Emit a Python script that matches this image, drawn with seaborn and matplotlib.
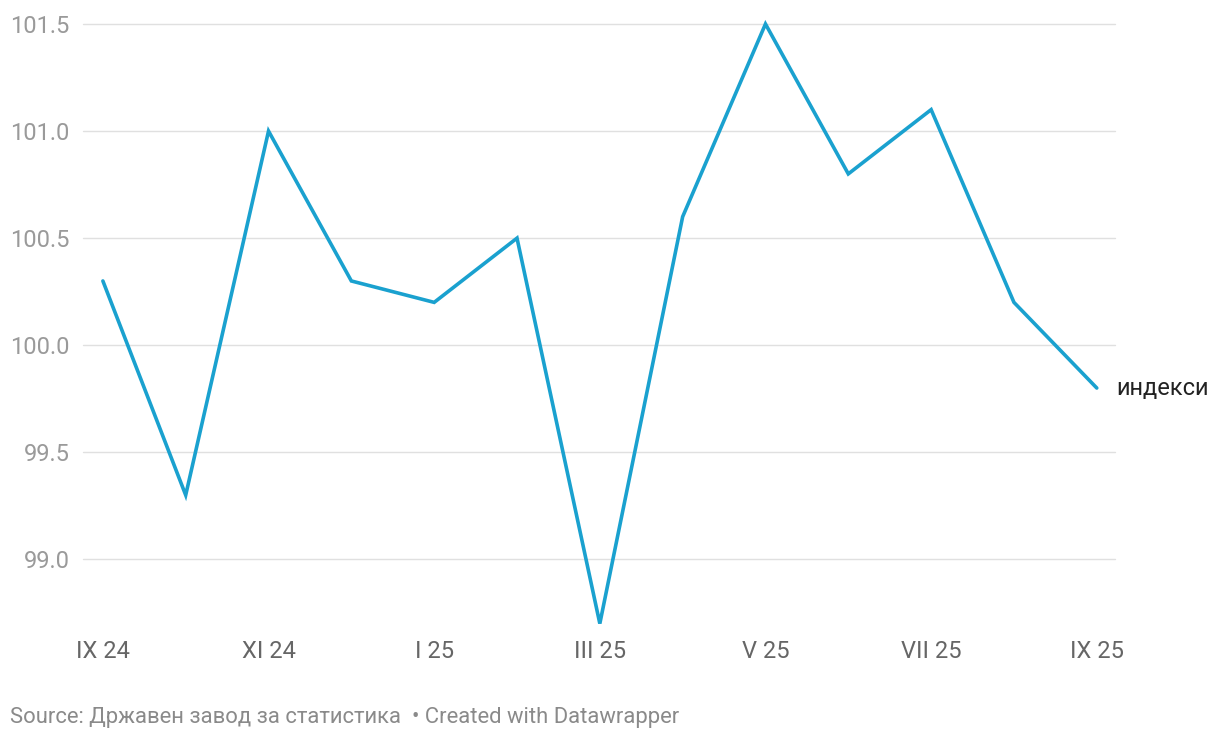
import matplotlib
matplotlib.use("Agg")
import matplotlib.pyplot as plt
import seaborn as sns
import pandas as pd
import numpy as np

months = ["IX 24", "X 24", "XI 24", "XII 24", "I 25", "II 25", "III 25",
          "IV 25", "V 25", "VI 25", "VII 25", "VIII 25", "IX 25"]
values = [100.3, 99.3, 101.0, 100.3, 100.2, 100.5, 98.7,
          100.6, 101.5, 100.8, 101.1, 100.2, 99.8]
series_label = "индекси"
y_ticks = [99.0, 99.5, 100.0, 100.5, 101.0, 101.5]
source_text = "Source: Државен завод за статистика  • Created with Datawrapper"

sns.set_style("white")
plt.rcParams['font.family'] = ['Roboto', 'DejaVu Sans']

df = pd.DataFrame({"idx": np.arange(len(months)), "month": months, "value": values})

fig = plt.figure(figsize=(12.2, 7.4), dpi=100)
ax = fig.add_axes([83/1220, 1-630/740, (1115-83)/1220, (630-24)/740])

line_color = "#1aa1cf"
sns.lineplot(data=df, x="idx", y="value", ax=ax, color=line_color, linewidth=2.6,
             clip_on=False, zorder=3)
for l in ax.lines:
    l.set_solid_capstyle("round")
    l.set_solid_joinstyle("miter")

ax.set_xlim(-0.24, 12.22)
ax.set_ylim(98.67, 101.5)
ax.set_yticks(y_ticks)
ax.set_yticklabels([f"{v:.1f}" for v in y_ticks])
ax.set_xticks(df["idx"][::2])
ax.set_xticklabels(df["month"][::2])

for v in y_ticks:
    ax.axhline(v, color="#e0e0e0", linewidth=1, zorder=1, clip_on=False)

for s in ax.spines.values():
    s.set_visible(False)
ax.grid(False)
ax.tick_params(axis="y", length=0, pad=9.5, labelsize=17, labelcolor="#9a9a9a")
ax.tick_params(axis="x", length=0, pad=7.5, labelsize=17, labelcolor="#666666")
ax.set_xlabel("")
ax.set_ylabel("")

ax.annotate(series_label, xy=(df["idx"].iloc[-1], values[-1]), xytext=(14, 0),
            textcoords="offset points", ha="left", va="center", fontsize=17,
            color="#222222", annotation_clip=False)

fig.text(10/1220, 1-717/740, source_text, ha="left", va="center", fontsize=15.8,
         color="#8a8a8a")

fig.savefig("out.png", dpi=100)
